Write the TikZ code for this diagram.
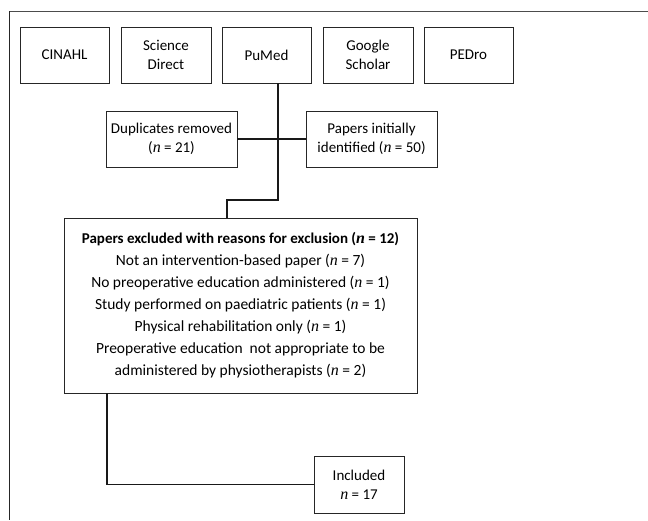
\documentclass[tikz,border=0pt]{standalone}
\usepackage{fontspec}
\setmainfont{Carlito}
\newfontfamily\nfont{Liberation Serif}
\newcommand\nn{{\nfont\itshape\fontsize{16}{19}\selectfont n}}
\newcommand\nnb{{\nfont\bfseries\itshape\fontsize{16}{19}\selectfont n}}
\begin{document}
\begin{tikzpicture}[x=1pt,y=-1pt,
  box/.style={draw=black!85, line width=0.9pt, align=center, inner sep=2pt,
    font=\fontsize{15}{19}\selectfont},
  conn/.style={draw=black!90, line width=1.4pt}]
\useasboundingbox (0,0) rectangle (648,520);
\draw[black!70, line width=0.6pt] (648,11) -- (9.5,11);
\draw[black!85, line width=1.2pt] (9.5,11) -- (9.5,520);
% sources
\node[box, minimum width=89pt, minimum height=56pt] (cin) at (64.5,55) {CINAHL};
\node[box, minimum width=90pt, minimum height=56pt] (sci) at (166,55) {Science\\Direct};
\node[box, minimum width=89pt, minimum height=56pt] (pum) at (266.5,55) {PuMed};
\node[box, minimum width=90pt, minimum height=56pt] (goo) at (368,55) {Google\\Scholar};
\node[box, minimum width=89pt, minimum height=56pt] (ped) at (468.5,55) {PEDro};
% second row
\node[box, minimum width=131pt, minimum height=56pt] (dup) at (171.5,139) {Duplicates removed\\(\nn{} = 21)};
\node[box, minimum width=131pt, minimum height=56pt] (ini) at (371.5,139) {Papers initially\\identified (\nn{} = 50)};
% exclusion
\node[box, minimum width=353pt, minimum height=175pt, font=\fontsize{15.5}{22}\selectfont] (exc) at (240.5,305.5)
  {{\fontsize{15}{22}\selectfont\textbf{Papers excluded with reasons for exclusion (\nnb{} = 12)}}\\
   Not an intervention-based paper (\nn{} = 7)\\
   No preoperative education administered (\nn{} = 1)\\
   Study performed on paediatric patients (\nn{} = 1)\\
   Physical rehabilitation only (\nn{} = 1)\\
   Preoperative education\ \ not appropriate to be\\
   administered by physiotherapists (\nn{} = 2)};
\node[box, minimum width=90pt, minimum height=57pt] (inc) at (359,484.5) {Included\\\nn{} = 17};
% connectors
\coordinate (j) at (278,138);
\coordinate (k) at (278,200);
\coordinate (m) at (227,200);
\coordinate (b) at (107,484.5);
\draw[conn] (pum.south -| j) -- (j) -- (k) -- (m) -- (exc.north -| m);
\draw[conn] (dup.east) -- (ini.west);
\draw[conn] (exc.south -| b) -- (b) -- (inc.west);
\end{tikzpicture}
\end{document}
